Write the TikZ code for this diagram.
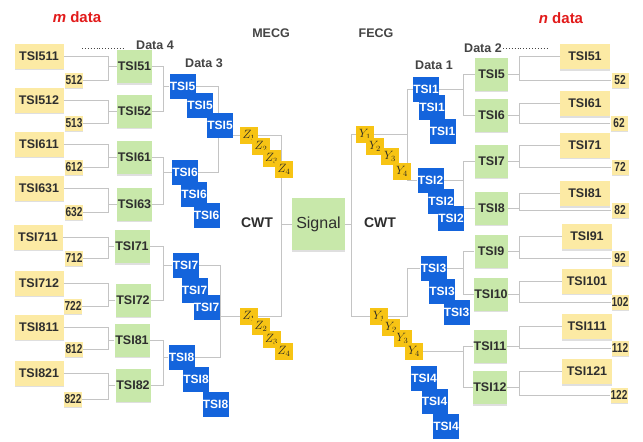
\documentclass[tikz,border=0pt]{standalone}
\usepackage{fontspec}
\usepackage{graphicx}
\setmainfont{Liberation Sans}
\usetikzlibrary{shadows}
\definecolor{yfill}{HTML}{FCEAA4}
\definecolor{gfill}{HTML}{C8E8AA}
\definecolor{bfill}{HTML}{1464DC}
\definecolor{zfill}{HTML}{F7C414}
\definecolor{linec}{HTML}{C4C4C4}
\definecolor{redc}{HTML}{E21B1B}
\definecolor{txt}{HTML}{2E2E2E}
\definecolor{lab}{HTML}{444444}
\pgfdeclarelayer{back}
\pgfdeclarelayer{bg}
\pgfsetlayers{back,bg,main}
\newcommand{\numtxt}[1]{\scalebox{0.78}[1]{#1}}
\begin{document}
\begin{tikzpicture}[x=1pt,y=-1pt,
  shad/.style={drop shadow={shadow xshift=0pt,shadow yshift=-1.6pt,opacity=0.25,fill=black!50}},
  yb/.style={shad,fill=yfill,minimum width=49pt,minimum height=25pt,inner sep=0pt,text=txt,font=\bfseries\fontsize{12.5}{12.5}\selectfont},
  nb/.style={shad,fill=yfill,minimum width=18pt,minimum height=15pt,inner sep=0pt,text=txt,font=\bfseries\fontsize{13}{13}\selectfont},
  gb/.style={shad,fill=gfill,minimum width=35pt,minimum height=33pt,inner sep=0pt,text=txt,font=\bfseries\fontsize{12.5}{12.5}\selectfont},
  bb/.style={fill=bfill,minimum width=26pt,minimum height=25pt,inner sep=0pt,text=white,font=\bfseries\fontsize{12}{12}\selectfont},
  zb/.style={fill=zfill,minimum width=18pt,minimum height=17pt,inner sep=0pt,text=black!85,font=\fontsize{12}{12}\selectfont},
  sb/.style={shad,fill=gfill,minimum width=53pt,minimum height=52pt,inner sep=0pt,text=txt,font=\fontsize{16}{16}\selectfont},
  ttl/.style={text=lab,font=\bfseries\fontsize{12.5}{12.5}\selectfont,inner sep=0pt},
  big/.style={text=redc,font=\bfseries\fontsize{15}{15}\selectfont,inner sep=0pt},
  cwt/.style={text=txt,font=\bfseries\fontsize{14}{14}\selectfont,inner sep=0pt},
  ln/.style={draw=linec,line width=0.9pt},
  dotl/.style={draw=lab,line width=0.9pt,dotted}]
\useasboundingbox (0,0) rectangle (643,442);
\begin{pgfonlayer}{back}
\fill[white] (0,0) rectangle (643,442);
\end{pgfonlayer}

% bracket x positions
\coordinate (bxL) at (108,0);
\coordinate (bgL) at (163,0);
\coordinate (bzL) at (218,0);
\coordinate (bzL2) at (220,0);
\coordinate (sL) at (281,0);
\coordinate (sR) at (351,0);
\coordinate (bR) at (407,0);
\coordinate (bgR) at (463,0);
\coordinate (byR) at (519,0);

% titles
\node[big] (mdata) at (77,17) {\itshape m\upshape\ data};
\node[big] (ndata) at (561,18) {\itshape n\upshape\ data};
\node[ttl] (d4) at (155,45) {Data 4};
\node[ttl] (d3) at (204,63) {Data 3};
\node[ttl] (mecg) at (271,33) {MECG};
\node[ttl] (fecg) at (376,33) {FECG};
\node[ttl] (d1) at (434,65) {Data 1};
\node[ttl] (d2) at (483,48) {Data 2};
\node[cwt] (cwtL) at (257,223) {CWT};
\node[cwt] (cwtR) at (380,223) {CWT};
\coordinate (dl1) at (82,48); \coordinate (dl2) at (125,48);
\coordinate (dr1) at (503,48); \coordinate (dr2) at (548,48);
\draw[dotl] (dl1) -- (dl2);
\draw[dotl] (dr1) -- (dr2);

% left yellow
\node[yb] (L511) at (39,56) {TSI511};
\node[nb] (L512) at (74,80) {\numtxt{512}};
\node[yb] (L512b) at (39,100) {TSI512};
\node[nb] (L513) at (74,123) {\numtxt{513}};
\node[yb] (L611) at (39,144) {TSI611};
\node[nb] (L612) at (74,167) {\numtxt{612}};
\node[yb] (L631) at (39,188) {TSI631};
\node[nb] (L632) at (74,212) {\numtxt{632}};
\node[yb] (L711) at (38,237) {TSI711};
\node[nb] (L712) at (74,258) {\numtxt{712}};
\node[yb] (L712b) at (39,283) {TSI712};
\node[nb] (L722) at (73,306) {\numtxt{722}};
\node[yb] (L811) at (39,327) {TSI811};
\node[nb] (L812) at (74,349) {\numtxt{812}};
\node[yb] (L821) at (39,373) {TSI821};
\node[nb] (L822) at (73,399) {\numtxt{822}};

% left green
\node[gb] (G51) at (134.5,66.5) {TSI51};
\node[gb] (G52) at (134.5,111) {TSI52};
\node[gb] (G61) at (134.5,157.5) {TSI61};
\node[gb] (G63) at (134.5,204) {TSI63};
\node[gb] (G71) at (132,246.5) {TSI71};
\node[gb] (G72) at (133,300) {TSI72};
\node[gb] (G81) at (132,340) {TSI81};
\node[gb] (G82) at (133,385) {TSI82};

% left blue
\node[bb] (T5a) at (182.5,86.5) {TSI5};
\node[bb] (T5b) at (200,105.5) {TSI5};
\node[bb] (T5c) at (220,125) {TSI5};
\node[bb] (T6a) at (185,172.5) {TSI6};
\node[bb] (T6b) at (194,194) {TSI6};
\node[bb] (T6c) at (206.5,215.5) {TSI6};
\node[bb] (T7a) at (185.5,265.5) {TSI7};
\node[bb] (T7b) at (194.5,290.5) {TSI7};
\node[bb] (T7c) at (206.5,307.5) {TSI7};
\node[bb] (T8a) at (181.5,357.5) {TSI8};
\node[bb] (T8b) at (196,379.5) {TSI8};
\node[bb] (T8c) at (215.5,404.5) {TSI8};

% Z chains
\node[zb] (Za1) at (249,135) {$Z_1$};
\node[zb] (Za2) at (261,146.5) {$Z_2$};
\node[zb] (Za3) at (271.5,158.5) {$Z_3$};
\node[zb] (Za4) at (284,169) {$Z_4$};
\node[zb] (Zb1) at (249,316) {$Z_1$};
\node[zb] (Zb2) at (261,326.5) {$Z_2$};
\node[zb] (Zb3) at (271.5,339) {$Z_3$};
\node[zb] (Zb4) at (284,351) {$Z_4$};

% signal
\node[sb] (Sig) at (318.5,224) {Signal};

% Y chains
\node[zb] (Ya1) at (365,134) {$Y_1$};
\node[zb] (Ya2) at (375,146.5) {$Y_2$};
\node[zb] (Ya3) at (390,156.5) {$Y_3$};
\node[zb] (Ya4) at (402,171) {$Y_4$};
\node[zb] (Yb1) at (379,316.5) {$Y_1$};
\node[zb] (Yb2) at (391,327.5) {$Y_2$};
\node[zb] (Yb3) at (402.5,338) {$Y_3$};
\node[zb] (Yb4) at (414,351) {$Y_4$};

% right blue
\node[bb] (T1a) at (426,89) {TSI1};
\node[bb] (T1b) at (432,107.5) {TSI1};
\node[bb] (T1c) at (442.5,131.5) {TSI1};
\node[bb] (T2a) at (430.5,180) {TSI2};
\node[bb] (T2b) at (441,201) {TSI2};
\node[bb] (T2c) at (451,218.5) {TSI2};
\node[bb] (T3a) at (433.5,268) {TSI3};
\node[bb] (T3b) at (442,291) {TSI3};
\node[bb] (T3c) at (456.5,312.5) {TSI3};
\node[bb] (T4a) at (424,378.5) {TSI4};
\node[bb] (T4b) at (434.5,401) {TSI4};
\node[bb] (T4c) at (446,426) {TSI4};

% right green
\node[gb,minimum width=33pt] (G5) at (491.5,74) {TSI5};
\node[gb,minimum width=33pt] (G6) at (491.5,115) {TSI6};
\node[gb,minimum width=33pt] (G7) at (491.5,161) {TSI7};
\node[gb,minimum width=33pt] (G8) at (491.5,208) {TSI8};
\node[gb,minimum width=33pt] (G9) at (491,251) {TSI9};
\node[gb,minimum width=33pt] (G10) at (491,294) {TSI10};
\node[gb,minimum width=33pt] (G11) at (490,346) {TSI11};
\node[gb,minimum width=33pt] (G12) at (490,387.5) {TSI12};

% right yellow
\node[yb,minimum width=50pt] (R51) at (585,56.5) {TSI51};
\node[nb,minimum width=17pt] (R52) at (620,80) {\numtxt{52}};
\node[yb,minimum width=50pt] (R61) at (585,103.5) {TSI61};
\node[nb,minimum width=17pt] (R62) at (619,123) {\numtxt{62}};
\node[yb,minimum width=50pt] (R71) at (585,145) {TSI71};
\node[nb,minimum width=17pt] (R72) at (620,167) {\numtxt{72}};
\node[yb,minimum width=50pt] (R81) at (585,193.5) {TSI81};
\node[nb,minimum width=17pt] (R82) at (620,210) {\numtxt{82}};
\node[yb,minimum width=50pt] (R91) at (587,236.5) {TSI91};
\node[nb,minimum width=17pt] (R92) at (620,258) {\numtxt{92}};
\node[yb,minimum width=50pt] (R101) at (587,281) {TSI101};
\node[nb,minimum width=17pt] (R102) at (620,302) {\numtxt{102}};
\node[yb,minimum width=50pt] (R111) at (587,326.5) {TSI111};
\node[nb,minimum width=17pt] (R112) at (620,348) {\numtxt{112}};
\node[yb,minimum width=50pt] (R121) at (587,371.5) {TSI121};
\node[nb,minimum width=17pt] (R122) at (619,395) {\numtxt{122}};

\begin{pgfonlayer}{bg}
% left yellow -> green
\foreach \a/\n/\g in {L511/L512/G51, L512b/L513/G52, L611/L612/G61, L631/L632/G63,
                      L711/L712/G71, L712b/L722/G72, L811/L812/G81, L821/L822/G82}{
  \draw[ln] (\a.east) -- (\a.east -| bxL) |- (\n.east);
  \draw[ln] (\g.west) -- (\g.west -| bxL);
}
% left green -> blue
\foreach \g/\h/\b in {G51/G52/T5a, G61/G63/T6a, G71/G72/T7a, G81/G82/T8a}{
  \draw[ln] (\g.east) -- (\g.east -| bgL) |- (\h.east);
  \draw[ln] (\b.west) -- (\b.west -| bgL);
}
% left blue -> Z
\draw[ln] (T5a.east) -- (T5a.east -| bzL) |- (T6a.east);
\draw[ln] (Za1.west) -- (Za1.west -| bzL);
\draw[ln] (T7a.east) -- (T7a.east -| bzL2) |- (T8a.east);
\draw[ln] (Zb1.west) -- (Zb1.west -| bzL2);
% Z -> signal
\draw[ln] (Za1.east) -- (Za1.east -| sL) |- (Zb1.east);
\draw[ln] (Sig.west) -- (Sig.west -| sL);
% signal -> Y
\draw[ln] (Ya1.west) -- (Ya1.west -| sR) |- (Yb1.west);
\draw[ln] (Sig.east) -- (Sig.east -| sR);
% Y -> right blue
\draw[ln] (T1a.west) -- (T1a.west -| bR) |- (T2a.west);
\draw[ln] (Ya1.east) -- (Ya1.east -| bR);
\draw[ln] (T3a.west) -- (T3a.west -| bR) |- (Yb1.east);
% right blue -> green
\foreach \g/\h/\b in {G5/G6/T1a, G7/G8/T2a, G9/G10/T3a, G11/G12/Yb4}{
  \draw[ln] (\g.west) -- (\g.west -| bgR) |- (\h.west);
  \draw[ln] (\b.east) -- (\b.east -| bgR);
}
% right green -> yellow
\foreach \a/\n/\g in {R51/R52/G5, R61/R62/G6, R71/R72/G7, R81/R82/G8,
                      R91/R92/G9, R101/R102/G10, R111/R112/G11, R121/R122/G12}{
  \draw[ln] (\a.west) -- (\a.west -| byR) |- (\n.west);
  \draw[ln] (\g.east) -- (\g.east -| byR);
}
\end{pgfonlayer}
\end{tikzpicture}
\end{document}
